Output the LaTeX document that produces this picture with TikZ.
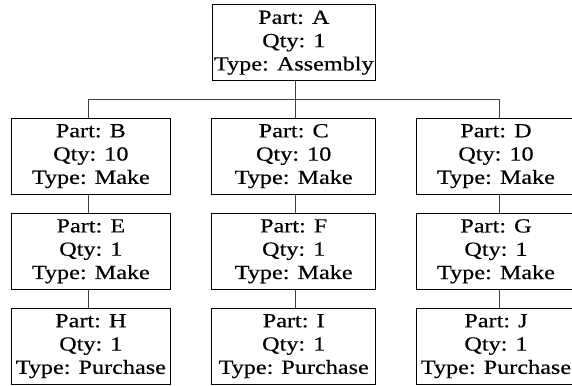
\documentclass[tikz,border=0pt]{standalone}
\usepackage{fontspec}
\setmainfont{Liberation Serif}[FakeStretch=1.21,FakeBold=0.4]
\begin{document}
\begin{tikzpicture}[x=1pt,y=1pt,
  partbox/.style={draw=black, line width=0.9pt, rectangle, inner sep=0pt,
    minimum height=76pt, align=center, font=\fontsize{20}{23.3}\selectfont},
  link/.style={draw=black!75, line width=0.8pt}]
\useasboundingbox (0,0) rectangle (572,-385);
% column connector positions and bus level
\coordinate (xB) at (88,0);
\coordinate (xC) at (295,0);
\coordinate (xD) at (499,0);
\coordinate (bus) at (0,-99.3);
% nodes
\node[partbox, minimum width=163.7pt] (A) at (293.85,-42.7) {Part: A\\Qty: 1\\Type: Assembly};
\node[partbox, minimum width=159.7pt] (B) at (90.85,-156.15) {Part: B\\Qty: 10\\Type: Make};
\node[partbox, minimum width=164pt] (C) at (293.7,-156.15) {Part: C\\Qty: 10\\Type: Make};
\node[partbox, minimum width=160pt] (D) at (496,-156.15) {Part: D\\Qty: 10\\Type: Make};
\node[partbox, minimum width=159.7pt] (E) at (90.85,-251.3) {Part: E\\Qty: 1\\Type: Make};
\node[partbox, minimum width=164pt] (F) at (293.7,-251.3) {Part: F\\Qty: 1\\Type: Make};
\node[partbox, minimum width=160pt] (G) at (496,-251.3) {Part: G\\Qty: 1\\Type: Make};
\node[partbox, minimum width=159.7pt] (H) at (90.85,-346.15) {Part: H\\Qty: 1\\Type: Purchase};
\node[partbox, minimum width=164pt] (I) at (293.7,-346.15) {Part: I\\Qty: 1\\Type: Purchase};
\node[partbox, minimum width=160pt] (J) at (496,-346.15) {Part: J\\Qty: 1\\Type: Purchase};
% connectors
\draw[link] (A.south -| xC) -- (xC |- bus);
\draw[link] (xB |- bus) -- (xD |- bus);
\draw[link] (xB |- bus) -- (B.north -| xB);
\draw[link] (xC |- bus) -- (C.north -| xC);
\draw[link] (xD |- bus) -- (D.north -| xD);
\draw[link] (B.south -| xB) -- (E.north -| xB);
\draw[link] (C.south -| xC) -- (F.north -| xC);
\draw[link] (D.south -| xD) -- (G.north -| xD);
\draw[link] (E.south -| xB) -- (H.north -| xB);
\draw[link] (F.south -| xC) -- (I.north -| xC);
\draw[link] (G.south -| xD) -- (J.north -| xD);
\end{tikzpicture}
\end{document}
